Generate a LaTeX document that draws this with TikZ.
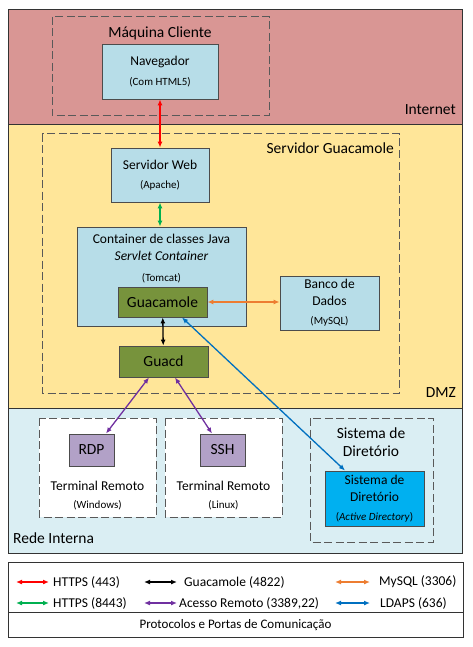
\documentclass[tikz,border=0pt]{standalone}
\usepackage{fontspec}
\setmainfont{Carlito}
\usetikzlibrary{arrows.meta}

\definecolor{internet}{HTML}{D99694}
\definecolor{dmz}{HTML}{FFE699}
\definecolor{interna}{HTML}{DAEEF3}
\definecolor{azul}{HTML}{B7DDE8}
\definecolor{verde}{HTML}{77933C}
\definecolor{roxo}{HTML}{B2A1C7}
\definecolor{ciano}{HTML}{00B0F0}
\definecolor{laranja}{HTML}{ED7D31}
\definecolor{verdeseta}{HTML}{00B050}
\definecolor{roxoseta}{HTML}{7030A0}
\definecolor{azulseta}{HTML}{0070C0}

\newcommand\fgrande{\fontsize{15.5}{18.5}\selectfont}
\newcommand\fmedio{\fontsize{13.5}{17}\selectfont}
\newcommand\fpeq{\fontsize{11}{14}\selectfont}

\begin{document}
\begin{tikzpicture}[x=1pt, y=-1pt,
  faixa/.style={draw=black!80, line width=0.9pt},
  grupo/.style={draw=black!65, line width=1pt, dash pattern=on 8pt off 3.5pt},
  caixa/.style={draw=black!70, line width=0.9pt, inner sep=0pt, align=center, font=\fmedio},
  seta/.style={{Latex[length=6pt,width=5pt]}-{Latex[length=6pt,width=5pt]}, line width=1.3pt},
  rotulo/.style={font=\fgrande, inner sep=0pt}]
\useasboundingbox (0,0) rectangle (472,647);
\draw[faixa, fill=internet] (8,9) rectangle (462,124);
\draw[faixa, fill=dmz] (8,124) rectangle (462,408);
\draw[faixa, fill=interna] (8,408) rectangle (462,553);
\draw[grupo] (52,17) rectangle (269,116);
\draw[grupo] (42,134) rectangle (399,393);
\draw[grupo, fill=white] (39,418) rectangle (156,517);
\draw[grupo, fill=white] (165,418) rectangle (282,517);
\draw[grupo] (310,418) rectangle (433,542);
\node[rotulo] (DiagramaNMaquina) at (160,33) {Máquina Cliente};
\node[rotulo, anchor=east] (DiagramaNInternet) at (456,110) {Internet};
\node[rotulo, anchor=east] (DiagramaNServidorGuacamole) at (394,148) {Servidor Guacamole};
\node[rotulo, anchor=east] (DiagramaNDMZ) at (456,393) {DMZ};
\node[rotulo, anchor=west] (DiagramaNRedeInterna) at (13,538) {Rede Interna};
\node[rotulo, align=center] (DiagramaNSistemaGrupo) at (371,442) {Sistema de\\Diretório};
\node[caixa, fill=azul, minimum width=116, minimum height=55] (DiagramaNNavegador) at (160,71.5) {Navegador\\[3pt]{\fpeq (Com HTML5)}};
\node[caixa, fill=azul, minimum width=98, minimum height=54] (DiagramaNServidorWeb) at (160,175) {Servidor Web\\[2pt]{\fpeq (Apache)}};
\node[caixa, fill=azul, minimum width=169, minimum height=99] (DiagramaNContainer) at (161.5,276.5) {};
\node[font=\fmedio, align=center, anchor=north, inner sep=0pt] (DiagramaNContainerTexto) at (161.5,234) {Container de classes Java\\\textit{Servlet Container}\\[4pt]{\fpeq (Tomcat)}};
\node[caixa, fill=verde, font=\fgrande, minimum width=89, minimum height=30] (DiagramaNGuacamole) at (162.5,302) {Guacamole};
\node[caixa, fill=azul, minimum width=99, minimum height=54] (DiagramaNBanco) at (329.5,303) {Banco de\\Dados\\[2pt]{\fpeq (MySQL)}};
\node[caixa, fill=verde, font=\fgrande, minimum width=89, minimum height=31] (DiagramaNGuacd) at (163.5,361.5) {Guacd};
\node[caixa, fill=roxo, font=\fgrande, minimum width=45, minimum height=32] (DiagramaNRDP) at (91.5,450) {RDP};
\node[caixa, fill=roxo, font=\fgrande, minimum width=45, minimum height=32] (DiagramaNSSH) at (222.5,450) {SSH};
\node[font=\fmedio, align=center, inner sep=0pt] (DiagramaNWindows) at (97.5,496) {Terminal Remoto\\[1pt]{\fpeq (Windows)}};
\node[font=\fmedio, align=center, inner sep=0pt] (DiagramaNLinux) at (223.5,496) {Terminal Remoto\\[1pt]{\fpeq (Linux)}};
\node[caixa, fill=ciano, minimum width=99, minimum height=55] (DiagramaNAD) at (374.5,498.5) {Sistema de\\Diretório\\[2pt]{\fpeq (\textit{Active Directory})}};
\draw[seta, draw=red] (DiagramaNNavegador) -- (DiagramaNServidorWeb);
\draw[seta, draw=verdeseta] (DiagramaNServidorWeb.south) -- (DiagramaNServidorWeb.south |- DiagramaNContainer.north);
\draw[seta, draw=laranja] (DiagramaNGuacamole.east) -- (DiagramaNGuacamole.east -| DiagramaNBanco.west);
\draw[seta, draw=black] (DiagramaNGuacamole) -- (DiagramaNGuacd);
\draw[seta, draw=roxoseta] ([xshift=-14.5pt]DiagramaNGuacd.south) -- ([xshift=14.5pt]DiagramaNRDP.north);
\draw[seta, draw=roxoseta] ([xshift=11.5pt]DiagramaNGuacd.south) -- ([xshift=-10.5pt]DiagramaNSSH.north);
\draw[seta, draw=azulseta] ([xshift=19.5pt]DiagramaNGuacamole.south) -- ([xshift=-29.5pt]DiagramaNAD.north);
\draw[faixa, fill=white] (8,562) rectangle (463,637);
\draw[faixa] (8,612) -- (463,612);
\node[font=\fontsize{13}{16}\selectfont, inner sep=0pt] (DiagramaNLegenda) at (235.5,625) {Protocolos e Portas de Comunicação};
\draw[seta, draw=red] (16,582) -- (49,582);
\node[font=\fmedio, anchor=west, inner sep=0pt] (DiagramaNHTTPS) at (53,582) {HTTPS (443)};
\draw[seta, draw=black] (144,582) -- (177,582);
\node[font=\fmedio, anchor=west, inner sep=0pt] (DiagramaNPortaGuacamole) at (184,582) {Guacamole (4822)};
\draw[seta, draw=laranja] (335,582) -- (370,582);
\node[font=\fmedio, anchor=west, inner sep=0pt] (DiagramaNMySQL) at (379,582) {MySQL (3306)};
\draw[seta, draw=verdeseta] (16,603) -- (49,603);
\node[font=\fmedio, anchor=west, inner sep=0pt] (DiagramaNHTTPSb) at (53,603) {HTTPS (8443)};
\draw[seta, draw=roxoseta] (144,603) -- (177,603);
\node[font=\fmedio, anchor=west, inner sep=0pt] (DiagramaNAcesso) at (179,603) {Acesso Remoto (3389,22)};
\draw[seta, draw=azulseta] (335,603) -- (370,603);
\node[font=\fmedio, anchor=west, inner sep=0pt] (DiagramaNLDAPS) at (380,603) {LDAPS (636)};
\end{tikzpicture}
\end{document}
